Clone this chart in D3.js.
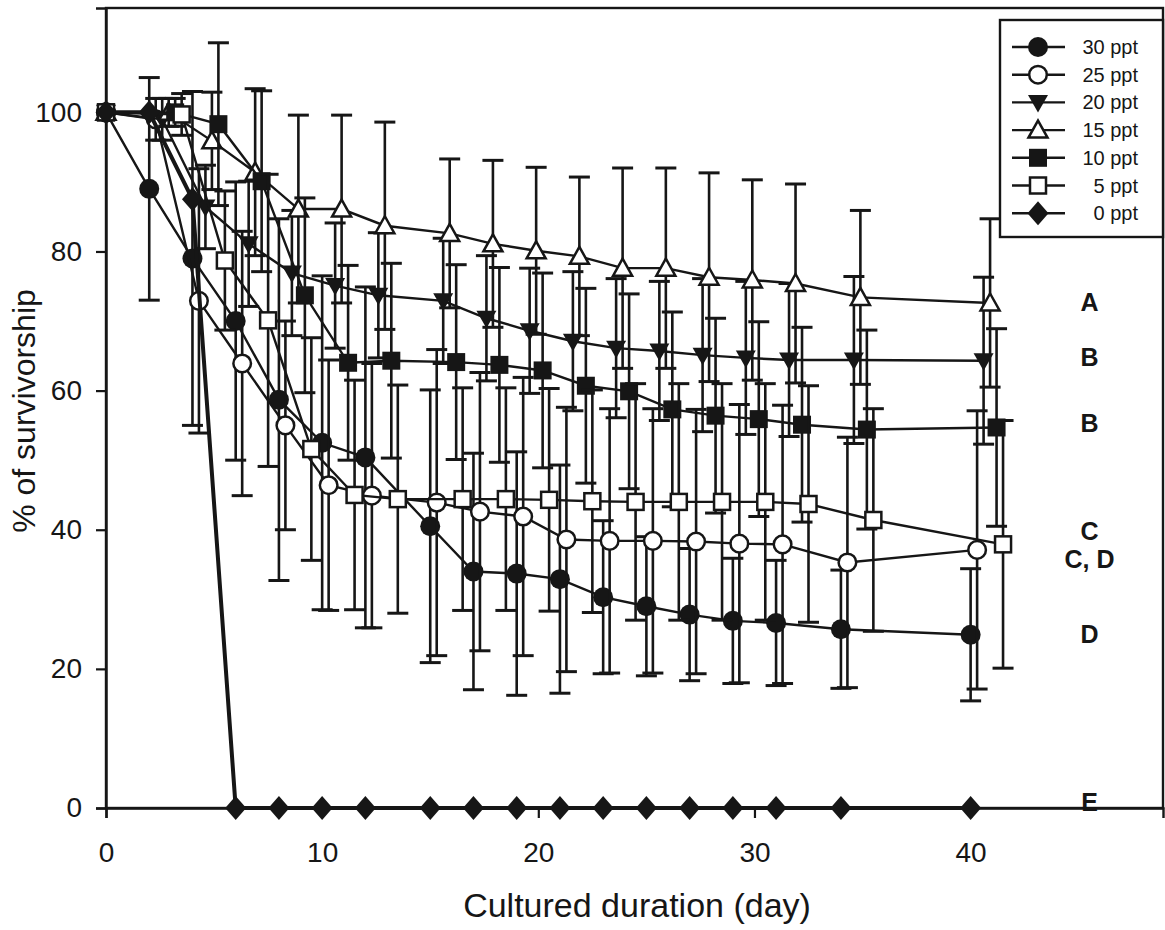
<!DOCTYPE html>
<html>
<head>
<meta charset="utf-8">
<script src="https://cdn.jsdelivr.net/npm/d3@7"></script>
<style>
  html, body { margin: 0; padding: 0; background: #fff; }
  svg { display: block; font-family: "Liberation Sans", Arial, Helvetica, sans-serif; }
</style>
</head>
<body>
<svg id="chart" width="1165" height="930"></svg>
<script>
// ---- Data ----
const days = [0, 2, 4, 6, 8, 10, 12, 15, 17, 19, 21, 23, 25, 27, 29, 31, 34, 40];
const seriesNames = ["30 ppt", "25 ppt", "20 ppt", "15 ppt", "10 ppt", "5 ppt", "0 ppt"];
const dayOffsets = [0, 0.3, 0.6, 0.9, 1.2, 1.5, 0];

const surv30 = [100, 89, 79, 70, 58.7, 52.5, 50.4, 40.5, 34, 33.7, 32.9, 30.3, 29, 27.8, 26.9, 26.6, 25.7, 24.9];
const err30  = [0, 16, 24, 20, 26, 24, 24.5, 19.6, 17, 17.5, 16.4, 11, 10, 9.5, 9, 9, 8.5, 9.5];
const surv25 = [100, 99, 72.9, 63.9, 55, 46.4, 44.9, 43.9, 42.6, 41.9, 38.6, 38.4, 38.4, 38.3, 38, 37.9, 35.3, 37.1];
const err25  = [0, 3, 19, 19, 15, 18, 19, 22, 20, 20, 19, 19, 19, 19, 20, 20, 18, 20];
const surv20 = [100, 99, 86.4, 81.1, 76.9, 75.1, 73.7, 72.9, 70.4, 68.6, 67.1, 66.1, 65.7, 65.1, 64.7, 64.4, 64.4, 64.3];
const err20  = [0, 3, 6, 9, 9, 9, 9, 9, 9, 9, 10, 10, 10, 11, 11, 11, 12, 12];
const surv15 = [100, 100, 95.9, 91.4, 86.1, 86.1, 83.7, 82.6, 81.1, 80.1, 79.3, 77.6, 77.6, 76.3, 75.9, 75.4, 73.4, 72.6];
const err15  = [0, 2, 7, 12, 13.5, 13.5, 14.9, 10.7, 12, 12, 11.4, 14.4, 14.4, 15, 14.4, 14.3, 12.5, 12.1];
const surv10 = [100, 100, 98.3, 90.1, 73.7, 64, 64.3, 64.1, 63.7, 62.9, 60.7, 59.9, 57.3, 56.4, 55.9, 55.1, 54.4, 54.7];
const err10  = [0, 2, 11.7, 13, 14, 14, 14, 14, 14, 14, 14, 14, 14, 14, 14, 14, 14.3, 14.2];
const surv5  = [100, 99.7, 78.7, 70.1, 51.6, 45, 44.4, 44.4, 44.4, 44.3, 44.1, 44, 44, 44, 44, 43.7, 41.4, 37.9];
const err5   = [0, 3, 10, 21, 16, 16.5, 16.4, 16, 16, 16, 16, 17, 17, 17, 17, 17, 16, 17.8];
const surv0  = [100, 100, 87.5, 0, 0, 0, 0, 0, 0, 0, 0, 0, 0, 0, 0, 0, 0, 0];
const err0   = [0, 0, 0, 0, 0, 0, 0, 0, 0, 0, 0, 0, 0, 0, 0, 0, 0, 0];

const markerTypes = ["circleFilled", "circleOpen", "triDownFilled", "triUpOpen", "squareFilled", "squareOpen", "diamondFilled"];

const groupLetters = ["A", "B", "B", "C", "C, D", "D", "E"];
const groupLetterValues = [72.7, 64.8, 55.3, 39.8, 35.8, 25.0, 0.8];

const xTicks = [0, 10, 20, 30, 40];
const yTicks = [0, 20, 40, 60, 80, 100];
const xTitle = "Cultured duration (day)";
const yTitle = "% of survivorship";

// ---- Build ----
const allSurv = [surv30, surv25, surv20, surv15, surv10, surv5, surv0];
const allErr  = [err30, err25, err20, err15, err10, err5, err0];
const series = seriesNames.map((name, i) => ({
  name, marker: markerTypes[i],
  points: days.map((d, j) => ({ x: d === 0 ? 0 : d + dayOffsets[i], y: allSurv[i][j], e: allErr[i][j] }))
}));

const INK = "#161616";
const svg = d3.select("#chart");
const L = 106, T = 8, R = 1163, B = 808;
const x = d3.scaleLinear().domain([0, 48.9]).range([L, R]);
const y = d3.scaleLinear().domain([0, 115]).range([B, T]);

function drawMarker(g, type, cx, cy, s) {
  s = s || 1;
  const k = (v) => v * s;
  if (type === "circleFilled") {
    g.append("circle").attr("cx", cx).attr("cy", cy).attr("r", k(10)).attr("fill", INK);
  } else if (type === "circleOpen") {
    g.append("circle").attr("cx", cx).attr("cy", cy).attr("r", k(8.8)).attr("fill", "#fff").attr("stroke", INK).attr("stroke-width", 2.5);
  } else if (type === "triDownFilled") {
    g.append("path").attr("d", `M${cx - k(10)},${cy - k(7.5)}L${cx + k(10)},${cy - k(7.5)}L${cx},${cy + k(10)}Z`).attr("fill", INK);
  } else if (type === "triUpOpen") {
    g.append("path").attr("d", `M${cx - k(9.5)},${cy + k(7.5)}L${cx + k(9.5)},${cy + k(7.5)}L${cx},${cy - k(9.5)}Z`).attr("fill", "#fff").attr("stroke", INK).attr("stroke-width", 2.5);
  } else if (type === "squareFilled") {
    g.append("rect").attr("x", cx - k(9)).attr("y", cy - k(9)).attr("width", k(18)).attr("height", k(18)).attr("fill", INK);
  } else if (type === "squareOpen") {
    g.append("rect").attr("x", cx - k(8)).attr("y", cy - k(8)).attr("width", k(16)).attr("height", k(16)).attr("fill", "#fff").attr("stroke", INK).attr("stroke-width", 2.5);
  } else if (type === "diamondFilled") {
    g.append("path").attr("d", `M${cx},${cy - k(12)}L${cx + k(10.5)},${cy}L${cx},${cy + k(12)}L${cx - k(10.5)},${cy}Z`).attr("fill", INK);
  }
}

// frame
svg.append("rect").attr("x", L).attr("y", T).attr("width", R - L).attr("height", B - T)
  .attr("fill", "none").attr("stroke", INK).attr("stroke-width", 2.4);

// axes
const yAxis = svg.append("g").attr("transform", `translate(${L},0)`)
  .call(d3.axisLeft(y).tickValues(yTicks).tickSize(10).tickPadding(14).tickFormat(d3.format("d")));
const xAxis = svg.append("g").attr("transform", `translate(0,${B})`)
  .call(d3.axisBottom(x).tickValues(xTicks).tickSize(10).tickPadding(24).tickFormat(d3.format("d")));
[yAxis, xAxis].forEach(a => {
  a.select(".domain").attr("stroke", INK).attr("stroke-width", 2.4);
  a.selectAll(".tick line").attr("stroke", INK).attr("stroke-width", 2.2);
  a.selectAll(".tick text").attr("font-size", 28).attr("fill", INK)
    .attr("font-family", "'Liberation Sans', Arial, sans-serif");
});

// series
const line = d3.line().x(d => x(d.x)).y(d => y(d.y));
series.forEach(s => {
  const g = svg.append("g");
  g.append("path").datum(s.points).attr("d", line).attr("fill", "none")
    .attr("stroke", INK).attr("stroke-width", s.marker === "diamondFilled" ? 4 : 2.4);
  s.points.filter(p => p.e > 0).forEach(p => {
    const cx = x(p.x);
    g.append("line").attr("x1", cx).attr("x2", cx).attr("y1", y(p.y + p.e)).attr("y2", y(p.y - p.e))
      .attr("stroke", INK).attr("stroke-width", 2.6);
    [p.y + p.e, p.y - p.e].forEach(v => {
      g.append("line").attr("x1", cx - 10.5).attr("x2", cx + 10.5).attr("y1", y(v)).attr("y2", y(v))
        .attr("stroke", INK).attr("stroke-width", 3);
    });
  });
  s.points.forEach(p => drawMarker(g, s.marker, x(p.x), y(p.y)));
});

// group letters
groupLetters.forEach((t, i) => {
  svg.append("text").attr("x", x(45.5)).attr("y", y(groupLetterValues[i]))
    .attr("text-anchor", "middle").attr("dominant-baseline", "central")
    .attr("font-size", 25).attr("font-weight", "bold").attr("fill", INK).text(t);
});

// legend
const lg = svg.append("g");
lg.append("rect").attr("x", 1000).attr("y", 20).attr("width", 163).attr("height", 217)
  .attr("fill", "#fff").attr("stroke", INK).attr("stroke-width", 2.4);
series.forEach((s, i) => {
  const ly = 47 + i * 27.7;
  lg.append("line").attr("x1", 1012).attr("x2", 1065).attr("y1", ly).attr("y2", ly)
    .attr("stroke", INK).attr("stroke-width", 2.4);
  drawMarker(lg, s.marker, 1038, ly, 1.0);
  lg.append("text").attr("x", 1138).attr("y", ly).attr("text-anchor", "end")
    .attr("dominant-baseline", "central").attr("font-size", 20).attr("fill", INK).text(s.name);
});

// titles
svg.append("text").attr("x", 637).attr("y", 917).attr("text-anchor", "middle")
  .attr("font-size", 34).attr("fill", INK).text(xTitle);
svg.append("text").attr("transform", "translate(35,411) rotate(-90)").attr("text-anchor", "middle")
  .attr("font-size", 32).attr("fill", INK).text(yTitle);
</script>
</body>
</html>
